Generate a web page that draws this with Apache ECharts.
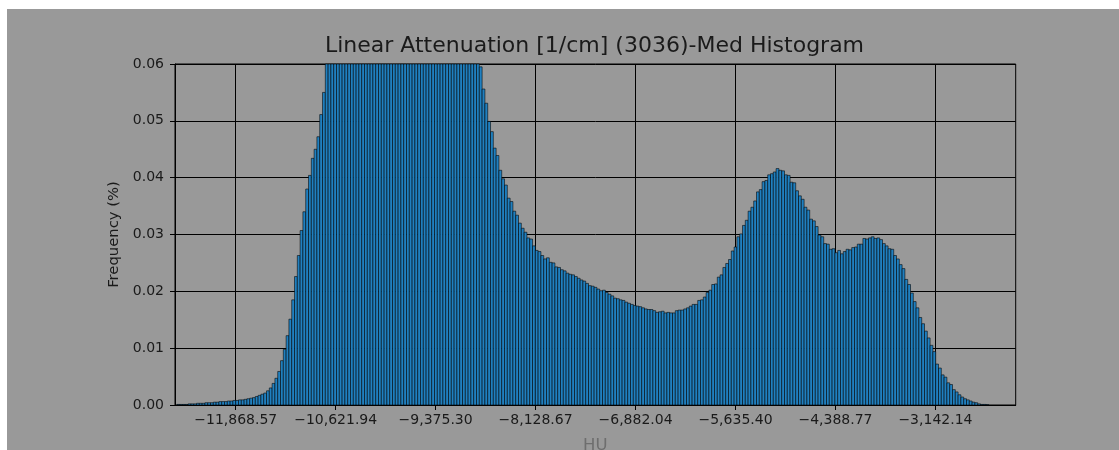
<!DOCTYPE html>
<html>
<head>
<meta charset="utf-8">
<script src="https://cdn.jsdelivr.net/npm/echarts@6/dist/echarts.min.js"></script>
<style>
  html, body { margin: 0; padding: 0; background: #ffffff; width: 1119px; height: 450px; overflow: hidden; }
  #chart { position: absolute; left: 7px; top: 9px; width: 1112px; height: 441px; background: #999999; }
</style>
</head>
<body>
<div id="chart"></div>
<script>
// Histogram bins (HU): left edge of the first bin and the common bin width
const binStart = -12602;
const binWidth = 34.92;

// Frequency (%) per bin, left to right
const freqRise = [
  0.0001, 0.0001, 0.0001, 0.0001, 0.0002, 0.0002, 0.0002, 0.0003, 0.0003, 0.0003,
  0.0004, 0.0004, 0.0004, 0.0005, 0.0005, 0.0006, 0.0006, 0.0006, 0.0007, 0.0007,
  0.0008, 0.0008, 0.0009, 0.0009, 0.0010, 0.0011, 0.0012, 0.0013, 0.0015, 0.0017,
  0.0019, 0.0021, 0.0025, 0.0030, 0.0038, 0.0047, 0.0059, 0.0078, 0.0098, 0.0122,
  0.0151, 0.0185, 0.0226, 0.0263, 0.0307, 0.0340, 0.0380, 0.0404, 0.0434, 0.0450,
  0.0472, 0.0511, 0.0550
];
const freqPeak = [
  0.0612, 0.0641, 0.0668, 0.0693, 0.0716, 0.0735, 0.0752, 0.0768, 0.0781, 0.0794,
  0.0805, 0.0813, 0.0822, 0.0829, 0.0835, 0.0841, 0.0846, 0.0849, 0.0853, 0.0855,
  0.0857, 0.0858, 0.0858, 0.0857, 0.0855, 0.0852, 0.0848, 0.0843, 0.0838, 0.0832,
  0.0826, 0.0818, 0.0811, 0.0803, 0.0794, 0.0786, 0.0777, 0.0768, 0.0758, 0.0749,
  0.0739, 0.0729, 0.0719, 0.0709, 0.0698, 0.0688, 0.0677, 0.0667, 0.0656, 0.0646,
  0.0636, 0.0627, 0.0617, 0.0608, 0.0601
];
const freqFall = [
  0.0595, 0.0556, 0.0531, 0.0499, 0.0481, 0.0452, 0.0439, 0.0413, 0.0398, 0.0387,
  0.0364, 0.0358, 0.0341, 0.0334, 0.0320, 0.0311, 0.0304, 0.0294, 0.0292, 0.0280,
  0.0272, 0.0270, 0.0263, 0.0257, 0.0259, 0.0251, 0.0250, 0.0243, 0.0242, 0.0238,
  0.0236, 0.0232, 0.0230, 0.0229, 0.0226, 0.0223, 0.0220, 0.0218, 0.0214, 0.0210,
  0.0209, 0.0207, 0.0204, 0.0201, 0.0202, 0.0198, 0.0195, 0.0192, 0.0188, 0.0187,
  0.0185, 0.0184, 0.0181, 0.0179, 0.0177, 0.0175, 0.0174, 0.0173, 0.0171, 0.0169,
  0.0168, 0.0168, 0.0166, 0.0163, 0.0164, 0.0165, 0.0162, 0.0163, 0.0162, 0.0162,
  0.0166, 0.0167, 0.0167, 0.0169, 0.0171
];
const freqMode2 = [
  0.0174, 0.0177, 0.0177, 0.0184, 0.0185, 0.0190, 0.0198, 0.0202, 0.0212, 0.0213,
  0.0225, 0.0229, 0.0242, 0.0249, 0.0256, 0.0271, 0.0278, 0.0296, 0.0301, 0.0316,
  0.0325, 0.0341, 0.0348, 0.0359, 0.0375, 0.0379, 0.0393, 0.0395, 0.0405, 0.0407,
  0.0410, 0.0416, 0.0413, 0.0412, 0.0405, 0.0404, 0.0392, 0.0391, 0.0377, 0.0368,
  0.0362, 0.0348, 0.0343, 0.0327, 0.0324, 0.0314, 0.0299, 0.0296, 0.0284, 0.0283,
  0.0274, 0.0275, 0.0268, 0.0272, 0.0266, 0.0270, 0.0274, 0.0273, 0.0277, 0.0278,
  0.0283, 0.0283, 0.0293, 0.0292, 0.0294
];
const freqTail = [
  0.0296, 0.0293, 0.0294, 0.0291, 0.0284, 0.0280, 0.0275, 0.0274, 0.0263, 0.0257,
  0.0247, 0.0240, 0.0221, 0.0212, 0.0197, 0.0182, 0.0171, 0.0154, 0.0143, 0.0130,
  0.0118, 0.0105, 0.0094, 0.0072, 0.0065, 0.0053, 0.0049, 0.0039, 0.0036, 0.0027,
  0.0023, 0.0018, 0.0014, 0.0011, 0.0009, 0.0007, 0.0005, 0.0004, 0.0002, 0.0001,
  0.0001, 0.00005
];

// Axis ticks
const xTickValues = [-11868.57, -10621.94, -9375.30, -8128.67, -6882.04, -5635.40, -4388.77, -3142.14];
const xTickLabels = ['\u221211,868.57', '\u221210,621.94', '\u22129,375.30', '\u22128,128.67',
                     '\u22126,882.04', '\u22125,635.40', '\u22124,388.77', '\u22123,142.14'];
const xRange = [-12626, -2141];
const yTicks = ['0.00', '0.01', '0.02', '0.03', '0.04', '0.05', '0.06'];

const freq = [].concat(freqRise, freqPeak, freqFall, freqMode2, freqTail);
const bins = freq.map((v, i) => [binStart + i * binWidth, binStart + (i + 1) * binWidth, v]);

const FONT = 'DejaVu Sans';
const chart = echarts.init(document.getElementById('chart'), null, { renderer: 'canvas' });

chart.setOption({
  backgroundColor: '#999999',
  animation: false,
  textStyle: { fontFamily: FONT },
  grid: {
    left: 168, right: 103.3, top: 55, bottom: 45,
    outerBoundsMode: 'none',
    containLabel: false,
    show: true, borderColor: '#000000', borderWidth: 1, backgroundColor: 'transparent'
  },
  graphic: [{
    type: 'text',
    x: 587.5, y: 48.5,
    style: {
      text: 'Linear Attenuation [1/cm] (3036)-Med Histogram',
      font: '22px "DejaVu Sans"',
      fill: '#1a1a1a',
      textAlign: 'center',
      textVerticalAlign: 'bottom'
    }
  }],
  xAxis: {
    type: 'value',
    min: xRange[0], max: xRange[1],
    name: 'HU',
    nameLocation: 'middle',
    nameGap: 32,
    nameTextStyle: { color: '#6e6e6e', fontSize: 16.5, fontFamily: FONT },
    axisLine: { show: true, lineStyle: { color: '#000000', width: 1 } },
    axisTick: { show: true, inside: false, length: 5, lineStyle: { color: '#000000', width: 1 }, customValues: xTickValues },
    axisLabel: {
      customValues: xTickValues,
      margin: 8,
      color: '#1a1a1a', fontSize: 14, fontFamily: FONT,
      formatter: (v) => {
        const i = xTickValues.findIndex(t => Math.abs(t - v) < 0.01);
        return i >= 0 ? xTickLabels[i] : '';
      }
    },
    splitLine: { show: true, lineStyle: { color: '#000000', width: 1 } }
  },
  yAxis: {
    type: 'value',
    min: 0, max: 0.06, interval: 0.01,
    name: 'Frequency (%)',
    nameLocation: 'middle',
    nameRotate: 90,
    nameGap: 50,
    nameTextStyle: { color: '#1a1a1a', fontSize: 14.8, fontFamily: FONT },
    axisLine: { show: true, lineStyle: { color: '#000000', width: 1 } },
    axisTick: { show: true, inside: false, length: 5, lineStyle: { color: '#000000', width: 1 } },
    axisLabel: {
      margin: 11,
      color: '#1a1a1a', fontSize: 14, fontFamily: FONT,
      formatter: (v) => yTicks[Math.round(v * 100)]
    },
    splitLine: { show: true, lineStyle: { color: '#000000', width: 1 } }
  },
  series: [{
    type: 'custom',
    data: bins,
    encode: { x: [0, 1], y: 2 },
    renderItem: function (params, api) {
      const a = api.coord([api.value(0), api.value(2)]);
      const b = api.coord([api.value(1), 0]);
      const cs = params.coordSys;
      const shape = echarts.graphic.clipRectByRect(
        { x: a[0], y: a[1], width: b[0] - a[0], height: b[1] - a[1] },
        { x: cs.x, y: cs.y, width: cs.width, height: cs.height }
      );
      if (!shape) return null;
      return {
        type: 'rect',
        shape: shape,
        style: { fill: '#2080c0', stroke: 'rgba(0,0,0,0.75)', lineWidth: 0.75 }
      };
    }
  }]
});
</script>
</body>
</html>
